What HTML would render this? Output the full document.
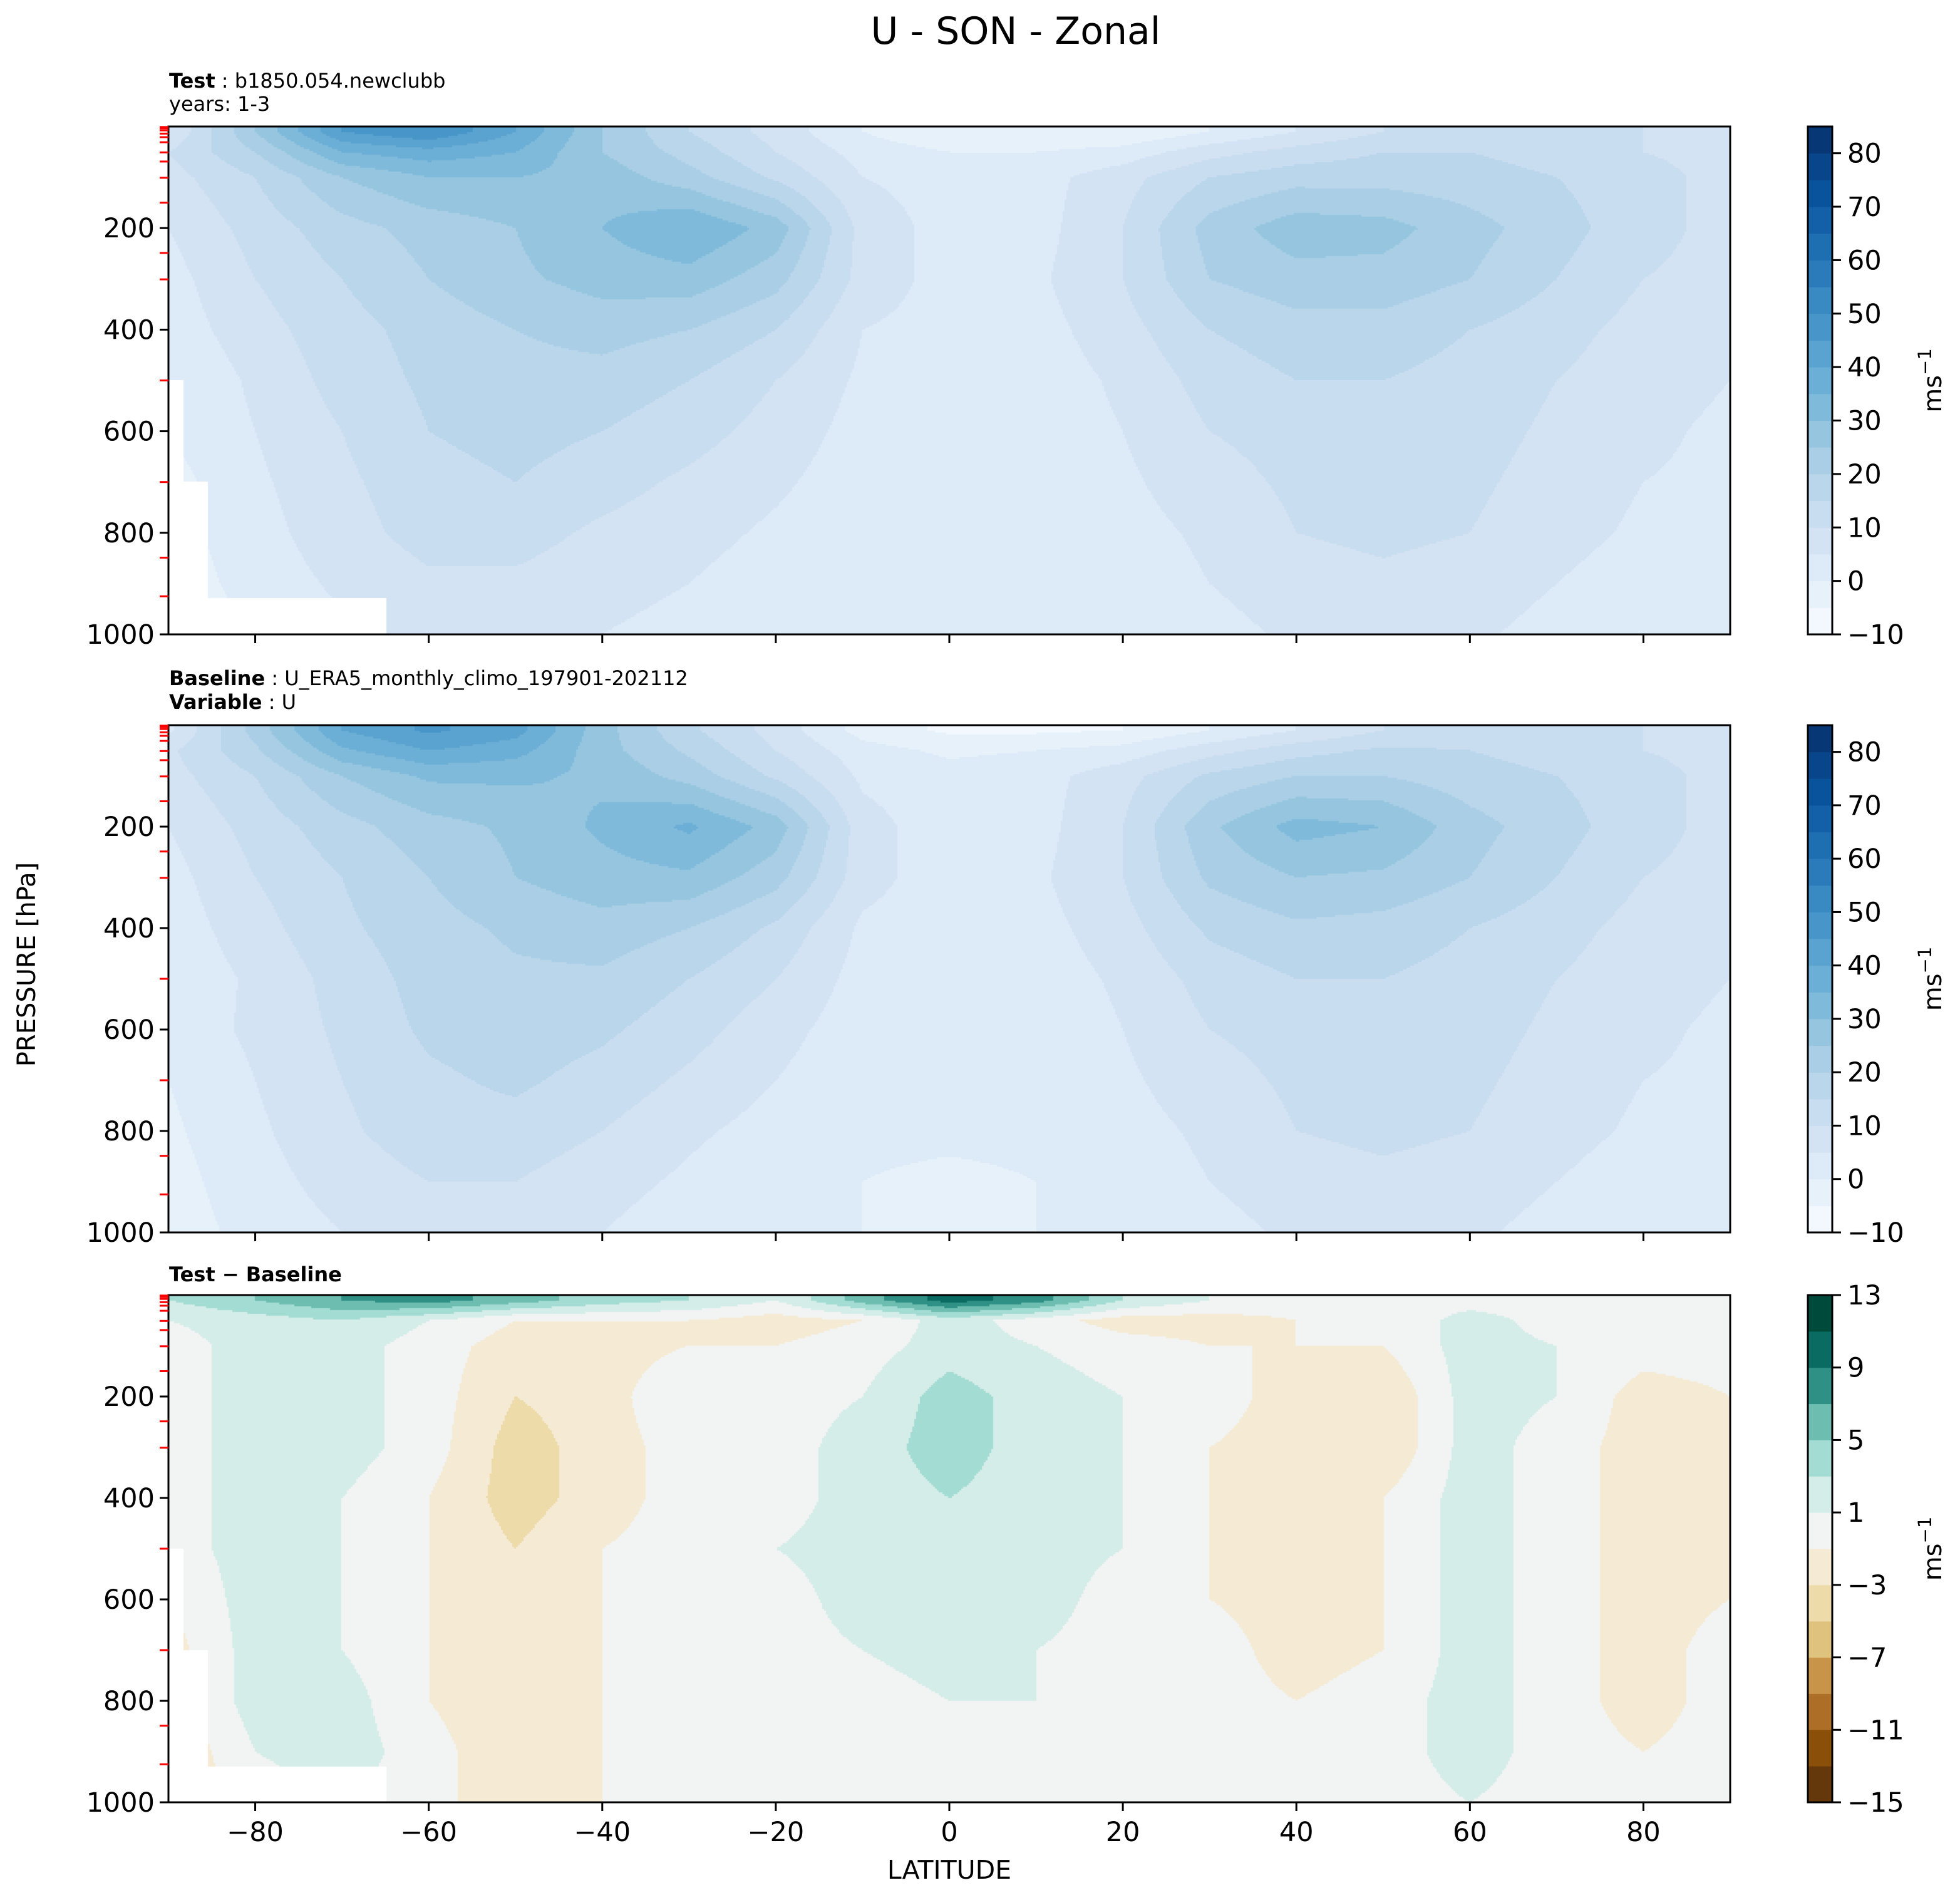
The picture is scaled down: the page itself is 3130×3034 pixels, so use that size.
<!DOCTYPE html>
<html><head><meta charset="utf-8">
<style>
body{margin:0;background:#fff;}
#root{position:relative;width:3130px;height:3034px;background:#fff;font-family:"DejaVu Sans","Liberation Sans",sans-serif;overflow:hidden;}
canvas{position:absolute;}
svg{position:absolute;left:0;top:0;}
</style></head>
<body>
<div id="root">
<canvas id="c1"></canvas>
<canvas id="c2"></canvas>
<canvas id="c3"></canvas>
<svg id="ov" width="3130" height="3034"></svg>
</div>
<script>
// ---- data ----
const lats = [-90,-80,-70,-60,-50,-40,-30,-20,-10,0,10,20,30,40,50,60,70,80,90];
const levs = [10,50,100,200,300,400,500,600,700,800,900,1000];
const testU = [
[5,25,45,50,40,25,15,8,0,-5,-5,-5,0,5,10,12,12,10,8],
[10,20,35,38,35,25,18,10,3,0,0,2,8,12,15,15,13,10,8],
[8,15,25,30,30,28,22,14,5,3,3,8,15,18,18,17,15,12,8],
[5,12,18,22,25,30,35,28,8,3,3,10,22,28,27,22,17,12,8],
[3,10,15,20,24,27,28,22,8,3,4,10,20,23,23,20,15,10,8],
[2,8,13,17,20,22,20,15,5,3,3,8,15,18,18,15,12,8,6],
[0,6,12,16,18,18,15,10,4,2,2,6,12,15,15,13,10,7,5],
[0,5,10,15,17,15,12,8,3,2,2,5,10,12,13,12,9,6,4],
[-2,4,9,13,15,12,9,6,2,1,2,4,8,11,12,11,8,5,4],
[-2,3,8,12,12,9,7,4,1,1,1,3,6,10,11,10,7,4,3],
[-3,2,6,9,9,7,5,2,1,0,1,2,5,8,9,8,5,2,2],
[-5,1,4,6,6,5,3,1,0,0,1,1,3,6,7,6,3,1,1]];
const baseU = [
[4,22,40,46,42,27,16,8,-2,-6,-6,-5,0,5,10,12,12,10,8],
[9,19,34,40,37,27,19,10,2,-1,0,2,8,13,16,15,13,10,8],
[8,15,25,31,31,29,23,14,4,2,3,8,16,20,20,17,15,12,8],
[5,12,18,23,26,31,36,28,7,2,3,10,24,32,30,22,17,12,8],
[3,10,15,20,25,28,29,22,7,2,4,10,21,25,24,20,15,10,8],
[2,8,14,18,21,23,20,14,4,2,3,8,16,19,18,15,12,8,6],
[1,6,12,17,19,19,15,10,3,1,2,6,12,15,15,13,10,7,5],
[2,6,11,16,18,16,12,7,2,1,1,5,10,12,13,12,9,6,4],
[0,5,10,14,16,13,9,5,1,1,1,4,8,11,12,11,8,5,4],
[-1,4,9,13,13,10,6,3,1,1,1,3,6,10,11,10,7,4,3],
[-2,3,7,10,10,7,4,1,0,-1,0,2,5,8,9,8,5,2,2],
[-3,2,5,7,7,5,2,0,0,-1,0,1,3,6,7,6,3,1,1]];
const diffU = [
[3,5,7,8,6,4,3,1,6,10,8,3,1,0,0,0,0,0,0],
[1,2,3,1,-1,-1,-1,-2,-1,2,0,-2,-2,-1,-1,2,0,0,0],
[0,2,2,0,-2,-2,-1,-1,0,2,1,0,-1,-1,-1,2,1,0,0],
[0,2,2,0,-3,-2,1,0,1,4,2,1,0,-2,-3,2,1,-2,-1],
[0,2,2,0,-4,-2,0,0,2,4,2,1,-1,-2,-3,2,0,-2,-1],
[0,2,1,-1,-4,-2,0,0,2,3,2,1,-1,-2,-1,2,0,-2,-1],
[0,2,1,-1,-3,-1,0,1,2,2,2,1,-1,-2,-1,2,0,-2,-1],
[-1,2,1,-1,-3,-1,0,0,2,2,2,0,-1,-2,-1,2,0,-2,-1],
[-2,2,1,-1,-3,-1,0,0,1,2,1,0,0,-2,-1,2,0,-2,0],
[-2,2,2,-1,-3,-1,0,0,0,1,1,0,0,-1,0,2,0,-2,0],
[-3,1,2,0,-3,-1,0,0,0,0,0,0,0,0,0,2,0,-1,0],
[-3,0,1,0,-3,-1,0,0,0,0,0,0,0,0,0,1,0,0,0]];
const latTicks = [-80,-60,-40,-20,0,20,40,60,80];
const presTicks = [200,400,600,800,1000];
const modelLevels = [1,2,3.6,7.6,14,21,31,51,69,101,150,249,301,500,700,849,925];
const blueBounds = [-10,-5,0,5,10,15,20,25,30,35,40,45,50,55,60,65,70,75,80,85];
const blueTicks = [-10,0,10,20,30,40,50,60,70,80];
const diffBounds = [-15,-13,-11,-9,-7,-5,-3,-1,1,3,5,7,9,11,13];
const diffTicks = [-15,-11,-7,-3,1,5,9,13];
const diffColors = ["#64380a","#8a5009","#ad6f27","#c8944a","#dfc27e","#eedbaa","#f5ead4","#f2f4f3","#d4ede9","#a3dcd3","#6ebdb1","#2f9085","#0a6b63","#004a3c"];
// ---- layout ----
const X0=269, X1=2763;
const panels=[{top:202,bot:1013,data:testU,kind:'b',mask:true,id:'c1'},
              {top:1158,bot:1968,data:baseU,kind:'b',mask:false,id:'c2'},
              {top:2068,bot:2878,data:diffU,kind:'d',mask:true,id:'c3'}];
const CBX0=2887, CBX1=2926;
function xs(lat){return X0+(lat+90)/180*(X1-X0);}
function ys(p,pn){return pn.top+p/1000*(pn.bot-pn.top);}
const blueStops=["#f7fbff","#deebf7","#c6dbef","#9ecae1","#6baed6","#4292c6","#2171b5","#08519c","#08306b"];
function hex(h){return [parseInt(h.substr(1,2),16),parseInt(h.substr(3,2),16),parseInt(h.substr(5,2),16)];}
function blues(t){t=Math.max(0,Math.min(1,t));const f=t*8,i=Math.min(7,Math.floor(f)),u=f-i;const a=hex(blueStops[i]),b=hex(blueStops[i+1]);
 return `rgb(${Math.round(a[0]+(b[0]-a[0])*u)},${Math.round(a[1]+(b[1]-a[1])*u)},${Math.round(a[2]+(b[2]-a[2])*u)})`;}
const blueColors=[];for(let i=0;i<blueBounds.length-1;i++)blueColors.push(blues((i+0.5)/(blueBounds.length-1)));
function levelColor(v,kind){const B=kind==='b'?blueBounds:diffBounds,C=kind==='b'?blueColors:diffColors;
 let i=0;while(i<B.length-2&&v>=B[i+1])i++;return C[i];}
function interp(data,lat,p){let fi=(lat+90)/10;let i=Math.min(17,Math.max(0,Math.floor(fi)));let u=fi-i;
 let pp=Math.max(levs[0],Math.min(1000,p));let j=0;while(j<levs.length-2&&pp>levs[j+1])j++;let v=(pp-levs[j])/(levs[j+1]-levs[j]);
 const a=data[j][i],b=data[j][i+1],c=data[j+1][i],d=data[j+1][i+1];
 return (a*(1-u)+b*u)*(1-v)+(c*(1-u)+d*u)*v;}
function masked(lat,p){return (lat<-88.3&&p>500)||(lat<-85.5&&p>700)||(lat<-64.8&&p>928);}
panels.forEach(pn=>{
 const cv=document.getElementById(pn.id);const W=X1-X0,H=pn.bot-pn.top;cv.width=W;cv.height=H;cv.style.left=X0+'px';cv.style.top=pn.top+'px';
 const ctx=cv.getContext('2d');const s=3;
 for(let y=0;y<H;y+=s)for(let x=0;x<W;x+=s){const lat=-90+(x+1.5)/W*180,p=(y+1.5)/H*1000;
  if(pn.mask&&masked(lat,p)){ctx.fillStyle='#ffffff';}else ctx.fillStyle=levelColor(interp(pn.data,lat,p),pn.kind);
  ctx.fillRect(x,y,s,s);}
});
// ---- overlay ----
const NS='http://www.w3.org/2000/svg';const ov=document.getElementById('ov');
function el(tag,attrs,txt){const e=document.createElementNS(NS,tag);for(const k in attrs)e.setAttribute(k,attrs[k]);if(txt!==undefined)e.textContent=txt;ov.appendChild(e);return e;}
function fmt(v){return v<0?'\u2212'+(-v):''+v;}
panels.forEach((pn,k)=>{
 const fr=el('rect',{x:X0,y:pn.top,width:X1-X0,height:pn.bot-pn.top,fill:'none',stroke:'#000','stroke-width':3});
 
 
 latTicks.forEach(t=>{const l=el('line',{x1:xs(t),x2:xs(t),y1:pn.bot,y2:pn.bot+14,stroke:'#000','stroke-width':3});
  
  
  if(k===2){const tx=el('text',{x:xs(t),y:pn.bot+62,'text-anchor':'middle','font-size':43},fmt(t));
   
   }});
 modelLevels.forEach(p=>{const l=el('line',{x1:X0-14,x2:X0,y1:ys(p,pn),y2:ys(p,pn),stroke:'#ff0000','stroke-width':3});
  
  });
 presTicks.forEach(p=>{el('line',{x1:X0-14,x2:X0,y1:ys(p,pn),y2:ys(p,pn),stroke:'#000','stroke-width':3});
  const tx=el('text',{x:X0-22,y:ys(p,pn)+15,'text-anchor':'end','font-size':43},''+p);
  
  });
 // colorbar
 const B=pn.kind==='b'?blueBounds:diffBounds,C=pn.kind==='b'?blueColors:diffColors,T=pn.kind==='b'?blueTicks:diffTicks;
 const cy=v=>pn.bot-(v-B[0])/(B[B.length-1]-B[0])*(pn.bot-pn.top);
 for(let i=0;i<C.length;i++){const r=el('rect',{x:CBX0,y:cy(B[i+1]),width:CBX1-CBX0,height:cy(B[i])-cy(B[i+1])+0.5,fill:C[i]});
  
  }
 el('rect',{x:CBX0,y:pn.top,width:CBX1-CBX0,height:pn.bot-pn.top,fill:'none',stroke:'#000','stroke-width':3});
 T.forEach(v=>{el('line',{x1:CBX1,x2:CBX1+14,y1:cy(v),y2:cy(v),stroke:'#000','stroke-width':3});
  const tx=el('text',{x:CBX1+24,y:cy(v)+15,'font-size':43},fmt(v));
  
  });
 const u=el('text',{transform:`translate(3100,${(pn.top+pn.bot)/2}) rotate(-90)`,'text-anchor':'middle','font-size':40},'ms');
 const sup=document.createElementNS(NS,'tspan');sup.setAttribute('dy','-16');sup.setAttribute('font-size','29');sup.textContent='\u22121';u.appendChild(sup);
 
 
});
function sub(x,y,bold,rest,name){const t=el('text',{x:x,y:y,'font-size':32});const b=document.createElementNS(NS,'tspan');b.setAttribute('font-weight','bold');b.textContent=bold;t.appendChild(b);
 const r=document.createElementNS(NS,'tspan');r.textContent=rest;t.appendChild(r);}
sub(270,140,'Test',' : b1850.054.newclubb','test-case-label');
const yr=el('text',{x:270,y:177,'font-size':32},'years: 1-3');


sub(270,1094,'Baseline',' : U_ERA5_monthly_climo_197901-202112','baseline-label');
sub(270,1132,'Variable',' : U','variable-label');
sub(270,2046,'Test \u2212 Baseline','','difference-label');
const ti=el('text',{x:1622,y:70,'text-anchor':'middle','font-size':60},'U - SON - Zonal');


const yl=el('text',{transform:'translate(56,1540) rotate(-90)','text-anchor':'middle','font-size':40},'PRESSURE [hPa]');


const xl=el('text',{x:1516,y:3000,'text-anchor':'middle','font-size':41},'LATITUDE');


</script>
</body></html>
